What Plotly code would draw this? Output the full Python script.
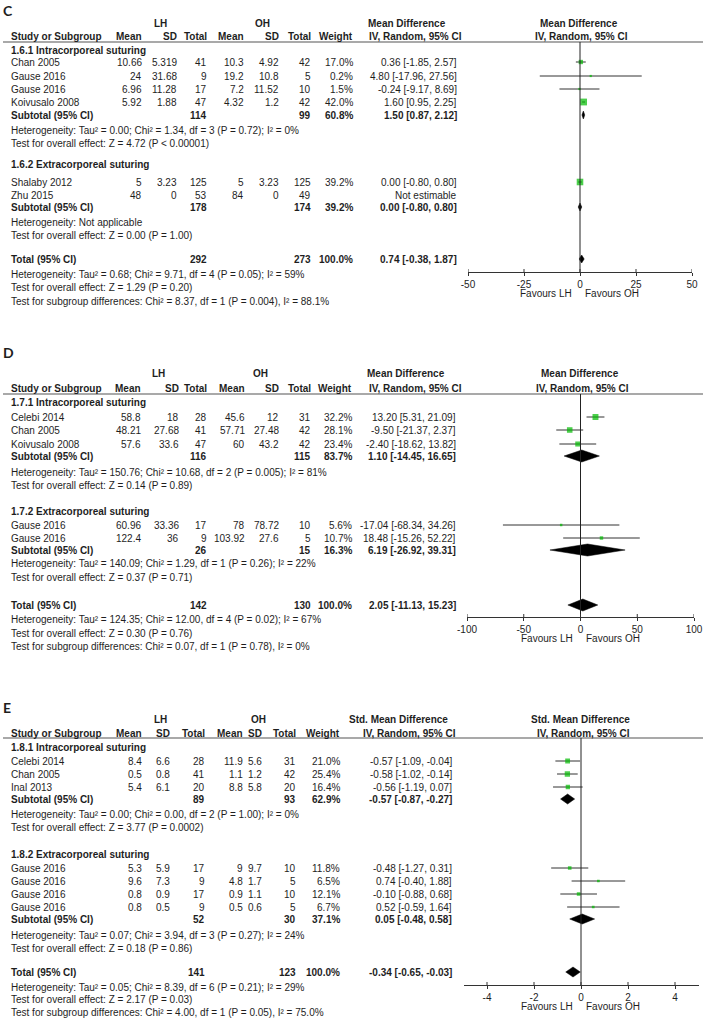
import math
import plotly.graph_objects as go

W, H = 709, 1021
FONT = "Liberation Sans, Arial, sans-serif"
TITLE_FONT = "Lato, Liberation Sans, sans-serif"
TXT = "#1e1e1e"
LINE = "#333333"
GREEN = "#00bb00"

# ------------------------------------------------------------------ DATA
# Panel C
c_groups = ["1.6.1 Intracorporeal suturing", "1.6.2 Extracorporeal suturing"]
c_study = ["Chan 2005", "Gause 2016", "Gause 2016", "Koivusalo 2008", "Shalaby 2012", "Zhu 2015"]
c_group_idx = [0, 0, 0, 0, 1, 1]
c_lh_mean = [10.66, 24, 6.96, 5.92, 5, 48]
c_lh_sd = [5.319, 31.68, 11.28, 1.88, 3.23, 0]
c_lh_n = [41, 9, 17, 47, 125, 53]
c_oh_mean = [10.3, 19.2, 7.2, 4.32, 5, 84]
c_oh_sd = [4.92, 10.8, 11.52, 1.2, 3.23, 0]
c_oh_n = [42, 5, 10, 42, 125, 49]
c_weight = [17.0, 0.2, 1.5, 42.0, 39.2, None]
c_md = [0.36, 4.80, -0.24, 1.60, 0.00, None]
c_lo = [-1.85, -17.96, -9.17, 0.95, -0.80, None]
c_hi = [2.57, 27.56, 8.69, 2.25, 0.80, None]
c_sub_lh_n = [114, 178]
c_sub_oh_n = [99, 174]
c_sub_weight = [60.8, 39.2]
c_sub_md = [1.50, 0.00]
c_sub_lo = [0.87, -0.80]
c_sub_hi = [2.12, 0.80]
c_sub_het = ["Heterogeneity: Tau² = 0.00; Chi² = 1.34, df = 3 (P = 0.72); I² = 0%",
             "Heterogeneity: Not applicable"]
c_sub_test = ["Test for overall effect: Z = 4.72 (P &lt; 0.00001)",
              "Test for overall effect: Z = 0.00 (P = 1.00)"]
c_tot = [292, 273, 0.74, -0.38, 1.87]
c_tot_lines = ["Heterogeneity: Tau² = 0.68; Chi² = 9.71, df = 4 (P = 0.05); I² = 59%",
               "Test for overall effect: Z = 1.29 (P = 0.20)",
               "Test for subgroup differences: Chi² = 8.37, df = 1 (P = 0.004), I² = 88.1%"]
c_ticks = [-50, -25, 0, 25, 50]

# Panel D
d_groups = ["1.7.1 Intracorporeal suturing", "1.7.2 Extracorporeal suturing"]
d_study = ["Celebi 2014", "Chan 2005", "Koivusalo 2008", "Gause 2016", "Gause 2016"]
d_group_idx = [0, 0, 0, 1, 1]
d_lh_mean = [58.8, 48.21, 57.6, 60.96, 122.4]
d_lh_sd = [18, 27.68, 33.6, 33.36, 36]
d_lh_n = [28, 41, 47, 17, 9]
d_oh_mean = [45.6, 57.71, 60, 78, 103.92]
d_oh_sd = [12, 27.48, 43.2, 78.72, 27.6]
d_oh_n = [31, 42, 42, 10, 5]
d_weight = [32.2, 28.1, 23.4, 5.6, 10.7]
d_md = [13.20, -9.50, -2.40, -17.04, 18.48]
d_lo = [5.31, -21.37, -18.62, -68.34, -15.26]
d_hi = [21.09, 2.37, 13.82, 34.26, 52.22]
d_sub_lh_n = [116, 26]
d_sub_oh_n = [115, 15]
d_sub_weight = [83.7, 16.3]
d_sub_md = [1.10, 6.19]
d_sub_lo = [-14.45, -26.92]
d_sub_hi = [16.65, 39.31]
d_sub_het = ["Heterogeneity: Tau² = 150.76; Chi² = 10.68, df = 2 (P = 0.005); I² = 81%",
             "Heterogeneity: Tau² = 140.09; Chi² = 1.29, df = 1 (P = 0.26); I² = 22%"]
d_sub_test = ["Test for overall effect: Z = 0.14 (P = 0.89)",
              "Test for overall effect: Z = 0.37 (P = 0.71)"]
d_tot = [142, 130, 2.05, -11.13, 15.23]
d_tot_lines = ["Heterogeneity: Tau² = 124.35; Chi² = 12.00, df = 4 (P = 0.02); I² = 67%",
               "Test for overall effect: Z = 0.30 (P = 0.76)",
               "Test for subgroup differences: Chi² = 0.07, df = 1 (P = 0.78), I² = 0%"]
d_ticks = [-100, -50, 0, 50, 100]

# Panel E
e_groups = ["1.8.1 Intracorporeal suturing", "1.8.2 Extracorporeal suturing"]
e_study = ["Celebi 2014", "Chan 2005", "Inal 2013", "Gause 2016", "Gause 2016", "Gause 2016", "Gause 2016"]
e_group_idx = [0, 0, 0, 1, 1, 1, 1]
e_lh_mean = [8.4, 0.5, 5.4, 5.3, 9.6, 0.8, 0.8]
e_lh_sd = [6.6, 0.8, 6.1, 5.9, 7.3, 0.9, 0.5]
e_lh_n = [28, 41, 20, 17, 9, 17, 9]
e_oh_mean = [11.9, 1.1, 8.8, 9, 4.8, 0.9, 0.5]
e_oh_sd = [5.6, 1.2, 5.8, 9.7, 1.7, 1.1, 0.6]
e_oh_n = [31, 42, 20, 10, 5, 10, 5]
e_weight = [21.0, 25.4, 16.4, 11.8, 6.5, 12.1, 6.7]
e_md = [-0.57, -0.58, -0.56, -0.48, 0.74, -0.10, 0.52]
e_lo = [-1.09, -1.02, -1.19, -1.27, -0.40, -0.88, -0.59]
e_hi = [-0.04, -0.14, 0.07, 0.31, 1.88, 0.68, 1.64]
e_sub_lh_n = [89, 52]
e_sub_oh_n = [93, 30]
e_sub_weight = [62.9, 37.1]
e_sub_md = [-0.57, 0.05]
e_sub_lo = [-0.87, -0.48]
e_sub_hi = [-0.27, 0.58]
e_sub_het = ["Heterogeneity: Tau² = 0.00; Chi² = 0.00, df = 2 (P = 1.00); I² = 0%",
             "Heterogeneity: Tau² = 0.07; Chi² = 3.94, df = 3 (P = 0.27); I² = 24%"]
e_sub_test = ["Test for overall effect: Z = 3.77 (P = 0.0002)",
              "Test for overall effect: Z = 0.18 (P = 0.86)"]
e_tot = [141, 123, -0.34, -0.65, -0.03]
e_tot_lines = ["Heterogeneity: Tau² = 0.05; Chi² = 8.39, df = 6 (P = 0.21); I² = 29%",
               "Test for overall effect: Z = 2.17 (P = 0.03)",
               "Test for subgroup differences: Chi² = 4.00, df = 1 (P = 0.05), I² = 75.0%"]
e_ticks = [-4, -2, 0, 2, 4]

# ------------------------------------------------------------------ LAYOUT (pixel positions)
LAY_C = dict(label="C", label_y=10, grp_y=23, hdr_y=36, line_y=42,
             gtitle_y=[50, 164], study_y=[62, 76, 89, 102, 182, 195],
             sub_y=[115, 207], het_y=[130, 222], test_y=[143, 235],
             tot_y=259, tot_lines_y=[274, 287, 301], axis_y=272, fav_y=293,
             cols=[143, 178, 208, 245, 280, 312, 354, 458], lh_x=160, oh_x=262,
             tab_hdr_x=(407, 415), plot_hdr_x=(579, 581),
             dom=(468, 692), rng=(-50, 50), dia_h=4, measure="Mean Difference")
LAY_D = dict(label="D", label_y=352, grp_y=373, hdr_y=388, line_y=394,
             gtitle_y=[402, 511], study_y=[417, 430, 444, 525, 538],
             sub_y=[456, 550], het_y=[472, 563], test_y=[485, 577],
             tot_y=605, tot_lines_y=[619, 633, 646], axis_y=617, fav_y=638,
             cols=[142, 180, 208, 246, 280, 312, 353, 457], lh_x=158, oh_x=260,
             tab_hdr_x=(406, 415), plot_hdr_x=(580, 582),
             dom=(467, 694), rng=(-100, 100), dia_h=6, measure="Mean Difference")
LAY_E = dict(label="E", label_y=707, grp_y=719, hdr_y=733, line_y=738,
             gtitle_y=[747, 854], study_y=[761, 774, 787, 868, 881, 894, 907],
             sub_y=[799, 919], het_y=[814, 935], test_y=[827, 948],
             tot_y=972, tot_lines_y=[987, 999, 1012], axis_y=985, fav_y=1006,
             cols=[143, 171, 206, 244, 263, 297, 341, 453], lh_x=160, oh_x=258,
             tab_hdr_x=(398, 409), plot_hdr_x=(580, 583),
             dom=(463.5, 698.5), rng=(-5, 5), dia_h=5, measure="Std. Mean Difference")

annotations = []
shapes = []
traces = []
layout_axes = {}


def fmt(v):
    return f"{v:g}"


def ci(md, lo, hi):
    return f"{md:.2f} [{lo:.2f}, {hi:.2f}]"


def add_text(x, y, text, anchor="left", bold=False, size=10, family=FONT):
    if bold:
        text = f"<b>{text}</b>"
    annotations.append(dict(x=x / W, y=y, xref="paper", yref="y", text=text,
                            showarrow=False, xanchor=anchor, yanchor="middle",
                            borderpad=0,
                            font=dict(family=family, size=size, color=TXT)))


def panel(D, L, k):
    xr = "x" if k == 1 else f"x{k}"
    axname = "xaxis" if k == 1 else f"xaxis{k}"
    cols = L["cols"]
    add_text(2, L["label_y"], L["label"], bold=True, size=14, family=TITLE_FONT)
    add_text(L["lh_x"], L["grp_y"], "LH", "center", True)
    add_text(L["oh_x"], L["grp_y"], "OH", "center", True)
    add_text(10, L["hdr_y"], "Study or Subgroup", "left", True)
    for x, h in zip(cols[:7], ["Mean", "SD", "Total", "Mean", "SD", "Total", "Weight"]):
        add_text(x, L["hdr_y"], h, "right", True)
    add_text(L["tab_hdr_x"][0], L["grp_y"], L["measure"], "center", True)
    add_text(L["tab_hdr_x"][1], L["hdr_y"], "IV, Random, 95% CI", "center", True)
    add_text(L["plot_hdr_x"][0], L["grp_y"], L["measure"], "center", True)
    add_text(L["plot_hdr_x"][1], L["hdr_y"], "IV, Random, 95% CI", "center", True)
    shapes.append(dict(type="line", xref="paper", yref="y", x0=3 / W, x1=703 / W,
                       y0=L["line_y"], y1=L["line_y"], line=dict(color="#555555", width=1.2)))

    # study rows
    wx, wy, sx, sy, ss = [], [], [], [], []
    for i, name in enumerate(D["study"]):
        y = L["study_y"][i]
        add_text(10, y, name)
        vals = [D["lh_mean"][i], D["lh_sd"][i], D["lh_n"][i],
                D["oh_mean"][i], D["oh_sd"][i], D["oh_n"][i]]
        for x, v in zip(cols[:6], vals):
            add_text(x, y, fmt(v), "right")
        if D["md"][i] is None:
            add_text(cols[7], y, "Not estimable", "right")
            continue
        add_text(cols[6], y, f"{D['weight'][i]:.1f}%", "right")
        add_text(cols[7], y, ci(D["md"][i], D["lo"][i], D["hi"][i]), "right")
        wx += [D["lo"][i], D["hi"][i], None]
        wy += [y, y, None]
        sx.append(D["md"][i])
        sy.append(y)
        ss.append(max(2.2, 1.05 * math.sqrt(D["weight"][i])))
    traces.append(go.Scatter(x=wx, y=wy, xaxis=xr, yaxis="y", mode="lines",
                             line=dict(color=LINE, width=1), hoverinfo="skip"))
    traces.append(go.Scatter(x=sx, y=sy, xaxis=xr, yaxis="y", mode="markers",
                             marker=dict(symbol="square", color=GREEN, size=ss, line=dict(width=0)),
                             hoverinfo="skip"))

    def diamond(md, lo, hi, y):
        h = L["dia_h"]
        traces.append(go.Scatter(x=[lo, md, hi, md, lo], y=[y, y - h, y, y + h, y],
                                 xaxis=xr, yaxis="y", mode="lines", fill="toself",
                                 fillcolor="#000000", line=dict(color="#000000", width=0.5),
                                 hoverinfo="skip"))

    # subgroups
    for g in range(2):
        add_text(10, L["gtitle_y"][g], D["groups"][g], "left", True)
        y = L["sub_y"][g]
        add_text(10, y, "Subtotal (95% CI)", "left", True)
        add_text(cols[2], y, str(D["sub_lh_n"][g]), "right", True)
        add_text(cols[5], y, str(D["sub_oh_n"][g]), "right", True)
        add_text(cols[6], y, f"{D['sub_weight'][g]:.1f}%", "right", True)
        add_text(cols[7], y, ci(D["sub_md"][g], D["sub_lo"][g], D["sub_hi"][g]), "right", True)
        add_text(10, L["het_y"][g], D["sub_het"][g])
        add_text(10, L["test_y"][g], D["sub_test"][g])
        diamond(D["sub_md"][g], D["sub_lo"][g], D["sub_hi"][g], y)

    # total
    y = L["tot_y"]
    t_lh, t_oh, t_md, t_lo, t_hi = D["tot"]
    add_text(10, y, "Total (95% CI)", "left", True)
    add_text(cols[2], y, str(t_lh), "right", True)
    add_text(cols[5], y, str(t_oh), "right", True)
    add_text(cols[6], y, "100.0%", "right", True)
    add_text(cols[7], y, ci(t_md, t_lo, t_hi), "right", True)
    diamond(t_md, t_lo, t_hi, y)
    for yy, line in zip(L["tot_lines_y"], D["tot_lines"]):
        add_text(10, yy, line)

    # zero line and axis
    shapes.append(dict(type="line", xref=xr, yref="y", x0=0, x1=0,
                       y0=L["line_y"], y1=L["axis_y"], line=dict(color="#222222", width=1)))
    for t in D["ticks"]:
        shapes.append(dict(type="line", xref=xr, yref="y", x0=t, x1=t,
                           y0=L["axis_y"] - 3, y1=L["axis_y"], line=dict(color=LINE, width=1)))
    layout_axes[axname] = dict(
        domain=[L["dom"][0] / W, L["dom"][1] / W], range=list(L["rng"]),
        anchor="free", position=1 - L["axis_y"] / H, showline=True, linecolor=LINE,
        linewidth=1, ticks="outside", ticklen=3, tickcolor=LINE, tickwidth=1,
        tickmode="array", tickvals=D["ticks"], ticktext=[str(t) for t in D["ticks"]],
        tickfont=dict(family=FONT, size=10, color=TXT), showgrid=False, zeroline=False,
        automargin=False, fixedrange=True)
    add_text(L["plot_hdr_x"][0] - 6, L["fav_y"], "Favours LH", "right")
    add_text(L["plot_hdr_x"][0] + 5, L["fav_y"], "Favours OH", "left")


def pack(prefix):
    g = globals()
    keys = ["groups", "study", "group_idx", "lh_mean", "lh_sd", "lh_n", "oh_mean", "oh_sd",
            "oh_n", "weight", "md", "lo", "hi", "sub_lh_n", "sub_oh_n", "sub_weight",
            "sub_md", "sub_lo", "sub_hi", "sub_het", "sub_test", "tot", "tot_lines", "ticks"]
    return {k: g[f"{prefix}_{k}"] for k in keys}


panel(pack("c"), LAY_C, 1)
panel(pack("d"), LAY_D, 2)
panel(pack("e"), LAY_E, 3)

fig = go.Figure(data=traces)
fig.update_layout(
    template="none", width=W, height=H, showlegend=False,
    margin=dict(l=0, r=0, t=0, b=0, pad=0, autoexpand=False),
    paper_bgcolor="white", plot_bgcolor="rgba(0,0,0,0)",
    yaxis=dict(domain=[0, 1], range=[H, 0], visible=False, fixedrange=True),
    annotations=annotations, shapes=shapes, **layout_axes)
fig.write_html("out.html", config={"displayModeBar": False},
               post_script="document.body.style.margin='0px';"
                           "document.body.style.overflow='hidden';")
